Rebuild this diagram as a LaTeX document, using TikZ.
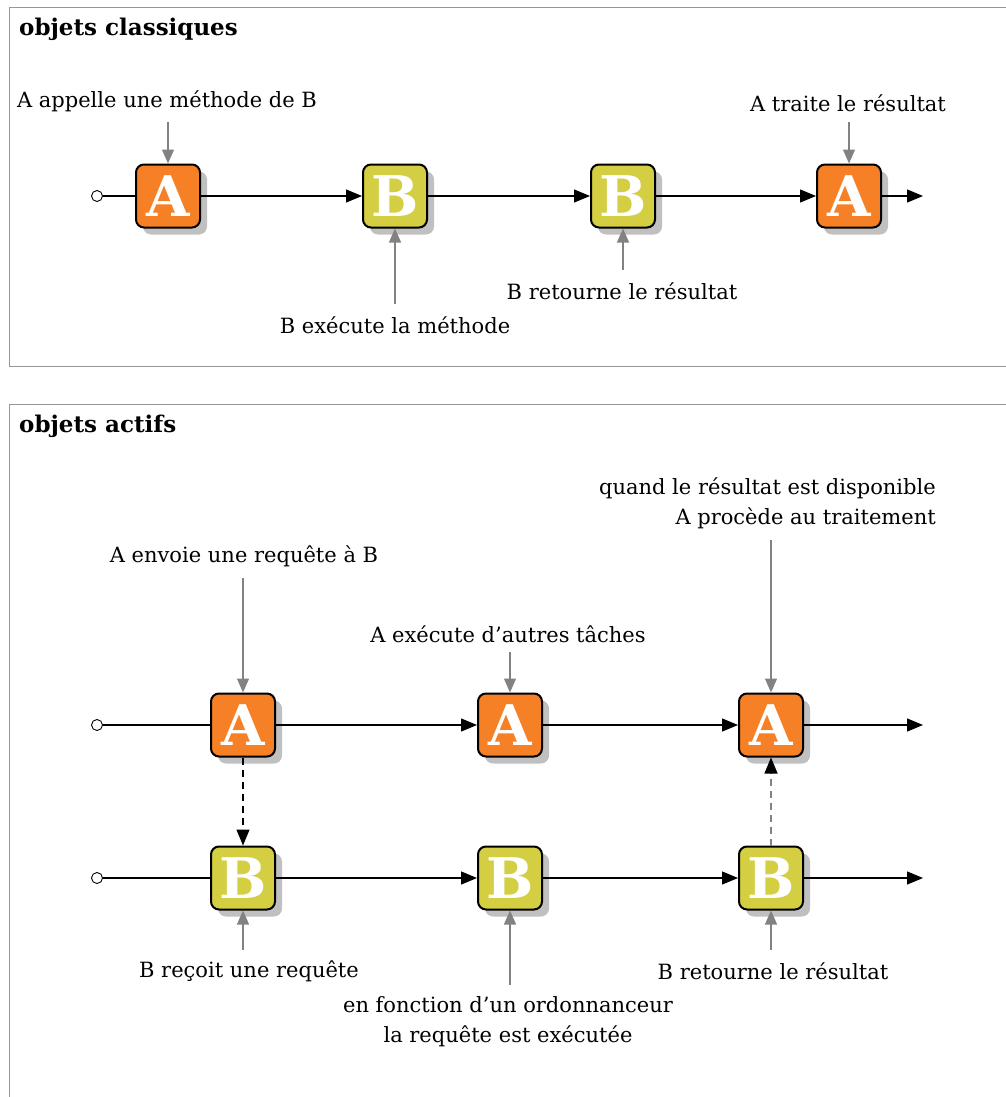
\documentclass[tikz,border=0pt]{standalone}
\usepackage{fontspec}
\setmainfont{DejaVu Serif}
\usetikzlibrary{arrows.meta,shadows}
\definecolor{orangeA}{RGB}{246,128,38}
\definecolor{yellowB}{RGB}{212,206,66}
\definecolor{shadowg}{RGB}{192,192,192}
\definecolor{frameg}{RGB}{150,150,150}
\definecolor{annot}{RGB}{130,130,130}
\tikzset{
  obj/.style={draw=black, line width=2pt, rounded corners=8pt, minimum width=64pt, minimum height=63pt,
    inner sep=0pt, text=white, font=\fontsize{56}{56}\selectfont\bfseries,
    drop shadow={shadow xshift=7pt, shadow yshift=-7pt, fill=shadowg, opacity=1}},
  objA/.style={obj, fill=orangeA},
  objB/.style={obj, fill=yellowB},
  lbl/.style={font=\fontsize{21}{30}\selectfont, inner sep=0pt, align=center},
  ttl/.style={font=\fontsize{23}{25}\selectfont\bfseries, inner sep=0pt, anchor=west},
  flow/.style={line width=1.2pt, draw=black},
  tipb/.style={-{Triangle[length=16pt,width=13pt]}},
  flowa/.style={flow, tipb},
  ann/.style={line width=1.2pt, draw=annot, -{Triangle[length=14pt,width=12pt]}, annot},
  start/.style={circle, draw=black, fill=white, line width=0.9pt, minimum size=11pt, inner sep=0pt},
  frame/.style={draw=frameg, line width=1pt}
}
\begin{document}
\begin{tikzpicture}[x=1pt,y=-1pt]
\useasboundingbox (0,0) rectangle (1005,1097);
% frames
\draw[frame] (1008,366) -- (9.5,366) -- (9.5,7.5) -- (1008,7.5);
\draw[frame] (9.5,1100) -- (9.5,404.5) -- (1008,404.5);
\node[ttl] (t1) at (19,29) {objets classiques};
\node[ttl] (t2) at (19,426) {objets actifs};

% ---------- top section
\node[start] (s1) at (97,196) {};
\node[objA] (a1) at (168,196) {A};
\node[objB] (b1) at (395,196) {B};
\node[objB] (b2) at (623,196) {B};
\node[objA] (a2) at (849,196) {A};
\coordinate (e1) at (923,196);
\draw[flow] (s1) -- (a1);
\draw[flowa] (a1) -- (b1);
\draw[flowa] (b1) -- (b2);
\draw[flowa] (b2) -- (a2);
\draw[flowa] (a2) -- (e1);

\node[lbl] (l1) at (167,101) {A appelle une méthode de B};
\node[lbl] (l2) at (848,103) {A traite le résultat};
\node[lbl] (l3) at (395,325) {B exécute la méthode};
\node[lbl] (l4) at (622,291) {B retourne le résultat};
\coordinate (c1) at (168,122);
\coordinate (c2) at (849,122);
\coordinate (c3) at (395,304);
\coordinate (c4) at (623,270);
\draw[ann] (c1) -- (a1.north);
\draw[ann] (c2) -- (a2.north);
\draw[ann] (c3) -- (b1.south);
\draw[ann] (c4) -- (b2.south);

% ---------- bottom section
\node[start] (s2) at (97,725) {};
\node[start] (s3) at (97,878) {};
\node[objA] (A1) at (243,725) {A};
\node[objA] (A2) at (510,725) {A};
\node[objA] (A3) at (771,725) {A};
\node[objB] (B1) at (243,878) {B};
\node[objB] (B2) at (510,878) {B};
\node[objB] (B3) at (771,878) {B};
\coordinate (e2) at (923,725);
\coordinate (e3) at (923,878);
\draw[flow] (s2) -- (A1);
\draw[flowa] (A1) -- (A2);
\draw[flowa] (A2) -- (A3);
\draw[flowa] (A3) -- (e2);
\draw[flow] (s3) -- (B1);
\draw[flowa] (B1) -- (B2);
\draw[flowa] (B2) -- (B3);
\draw[flowa] (B3) -- (e3);
\draw[flow, dash pattern=on 7pt off 5pt, tipb] (A1.south) -- (B1.north);
\draw[line width=1.2pt, draw=annot, dash pattern=on 7pt off 5pt, -{Triangle[length=16pt,width=13pt,fill=black,color=black]}] (B3.north) -- (A3.south);

\node[lbl] (m1) at (244,556) {A envoie une requête à B};
\node[lbl] (m2) at (508,634) {A exécute d’autres tâches};
\node[lbl, align=right, anchor=east] (m3) at (936,503) {quand le résultat est disponible\\A procède au traitement};
\node[lbl] (m4) at (249,971) {B reçoit une requête};
\node[lbl] (m5) at (508,1022) {en fonction d’un ordonnanceur\\la requête est exécutée};
\node[lbl] (m6) at (773,971) {B retourne le résultat};
\coordinate (d1) at (243,578);
\coordinate (d2) at (510,652);
\coordinate (d3) at (771,540);
\coordinate (d4) at (243,950);
\coordinate (d5) at (510,985);
\coordinate (d6) at (771,950);
\draw[ann] (d1) -- (A1.north);
\draw[ann] (d2) -- (A2.north);
\draw[ann] (d3) -- (A3.north);
\draw[ann] (d4) -- (B1.south);
\draw[ann] (d5) -- (B2.south);
\draw[ann] (d6) -- (B3.south);
\end{tikzpicture}
\end{document}
